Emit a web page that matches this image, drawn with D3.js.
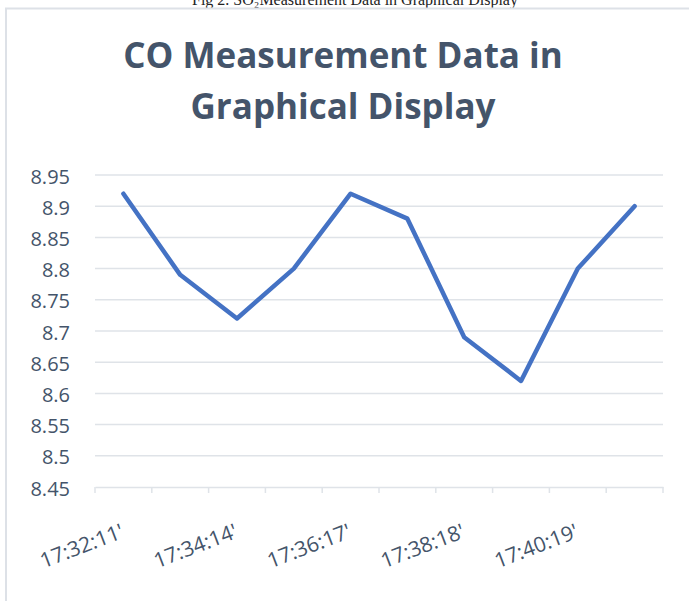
<!DOCTYPE html>
<html>
<head>
<meta charset="utf-8">
<script src="https://cdn.jsdelivr.net/npm/d3@7"></script>
<style>
  body { margin: 0; background: #fff; }
  svg { display: block; }
</style>
</head>
<body>
<div id="chart"></div>
<script>
// chart values
const caption = "Fig 2. SO\u2082Measurement Data in Graphical Display";
const titleLines = ["CO Measurement Data in", "Graphical Display"];
const tickLabels = ["17:32:11'", "", "17:34:14'", "", "17:36:17'", "", "17:38:18'", "", "17:40:19'", ""];
const coValues = [8.92, 8.79, 8.72, 8.80, 8.92, 8.88, 8.69, 8.62, 8.80, 8.90];
const yTicks = [8.45, 8.5, 8.55, 8.6, 8.65, 8.7, 8.75, 8.8, 8.85, 8.9, 8.95];

const width = 689, height = 601;
const margin = { top: 175, right: 26, bottom: 114, left: 95 };

const svg = d3.select("#chart").append("svg")
    .attr("width", width)
    .attr("height", height);

// caption above the frame, mostly cut off at the top edge
svg.append("text")
    .attr("x", 355)
    .attr("y", 5)
    .attr("text-anchor", "middle")
    .attr("font-family", "Liberation Serif, Times New Roman, serif")
    .attr("font-size", 16)
    .attr("fill", "#222")
    .text(caption);

// chart frame (left + top edges visible)
svg.append("rect")
    .attr("x", 6)
    .attr("y", 8.5)
    .attr("width", 700)
    .attr("height", 700)
    .attr("fill", "#fff")
    .attr("stroke", "#dde1e7")
    .attr("stroke-width", 2);

// title
svg.append("g")
    .selectAll("text")
    .data(titleLines)
    .join("text")
    .attr("x", 343)
    .attr("y", (d, i) => 68 + i * 51)
    .attr("text-anchor", "middle")
    .attr("font-family", "Open Sans, sans-serif")
    .attr("font-weight", "bold")
    .attr("font-size", 35)
    .attr("fill", "#44546a")
    .text(d => d);

const x = d3.scaleBand()
    .domain(d3.range(coValues.length))
    .range([margin.left, width - margin.right]);

const y = d3.scaleLinear()
    .domain([8.45, 8.95])
    .range([height - margin.bottom, margin.top]);

// horizontal gridlines
svg.append("g")
    .selectAll("line")
    .data(yTicks.slice(1))
    .join("line")
    .attr("x1", margin.left)
    .attr("x2", width - margin.right)
    .attr("y1", d => y(d))
    .attr("y2", d => y(d))
    .attr("stroke", "#dfe3e8")
    .attr("stroke-width", 1.5);

// y axis labels
svg.append("g")
    .selectAll("text")
    .data(yTicks)
    .join("text")
    .attr("x", 70)
    .attr("y", d => y(d) + 1.5)
    .attr("dy", "0.35em")
    .attr("text-anchor", "end")
    .attr("font-family", "Open Sans, sans-serif")
    .attr("font-size", 20)
    .attr("fill", "#44546a")
    .text(d => d);

// x axis: line + tick marks between categories
const xAxis = d3.axisBottom(x)
    .tickSize(0)
    .tickFormat("");
const gx = svg.append("g")
    .attr("transform", `translate(0,${y(8.45)})`)
    .call(xAxis);
gx.select(".domain")
    .attr("stroke", "#dfe3e8")
    .attr("stroke-width", 1.5);

const bounds = d3.range(coValues.length + 1).map(i => margin.left + i * x.step());
gx.selectAll(".cat-tick")
    .data(bounds)
    .join("line")
    .attr("class", "cat-tick")
    .attr("x1", d => d)
    .attr("x2", d => d)
    .attr("y1", 0)
    .attr("y2", 6)
    .attr("stroke", "#dfe3e8")
    .attr("stroke-width", 1.5);

// rotated category labels
svg.append("g")
    .selectAll("text")
    .data(tickLabels.map((t, i) => ({ t, i })).filter(d => d.t !== ""))
    .join("text")
    .attr("transform", d => `translate(${x(d.i) + x.bandwidth() / 2 + 2},${y(8.45) + 50}) rotate(-21)`)
    .attr("text-anchor", "end")
    .attr("font-family", "Open Sans, sans-serif")
    .attr("font-size", 21)
    .attr("fill", "#44546a")
    .text(d => d.t);

// the data line
const line = d3.line()
    .x((d, i) => x(i) + x.bandwidth() / 2)
    .y(d => y(d));

svg.append("path")
    .datum(coValues)
    .attr("d", line)
    .attr("fill", "none")
    .attr("stroke", "#4472c4")
    .attr("stroke-width", 4.5)
    .attr("stroke-linejoin", "round")
    .attr("stroke-linecap", "round");
</script>
</body>
</html>
